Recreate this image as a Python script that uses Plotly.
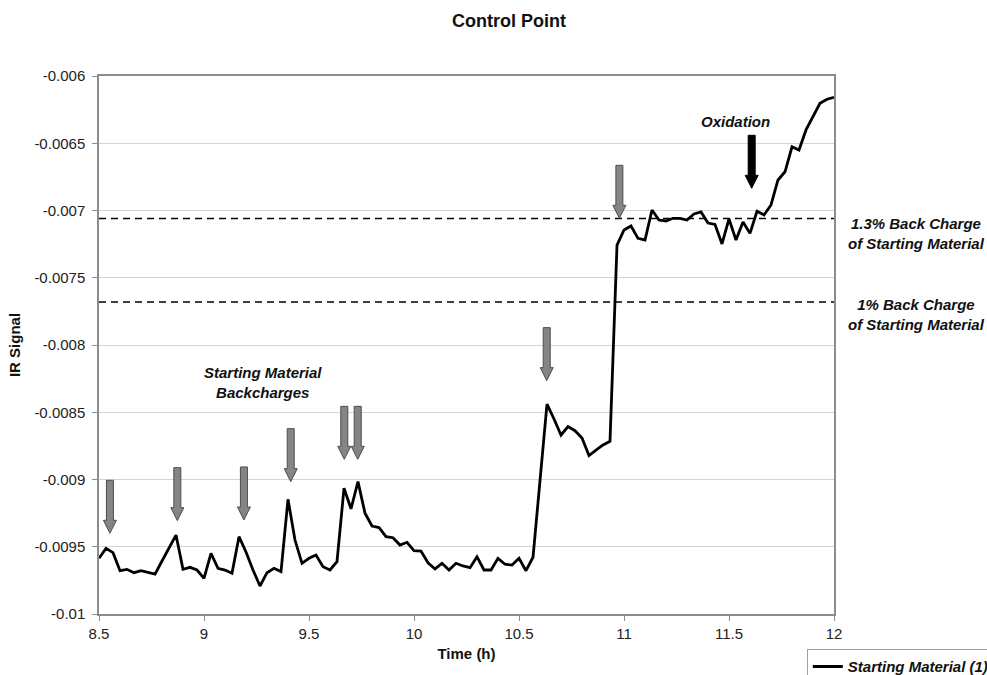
import plotly.graph_objects as go

# ---------------- data ----------------
time_h = [
    8.5, 8.5333, 8.5667, 8.6, 8.6333, 8.6667, 8.7, 8.7333, 8.7667, 8.8, 8.8333, 8.8667, 8.9, 8.9333, 8.9667,
    9.0, 9.0333, 9.0667, 9.1, 9.1333, 9.1667, 9.2, 9.2333, 9.2667, 9.3, 9.3333, 9.3667, 9.4, 9.4333, 9.4667,
    9.5, 9.5333, 9.5667, 9.6, 9.6333, 9.6667, 9.7, 9.7333, 9.7667, 9.8, 9.8333, 9.8667, 9.9, 9.9333, 9.9667,
    10.0, 10.0333, 10.0667, 10.1, 10.1333, 10.1667, 10.2, 10.2333, 10.2667, 10.3, 10.3333, 10.3667, 10.4, 10.4333, 10.4667,
    10.5, 10.5333, 10.5667, 10.6, 10.6333, 10.6667, 10.7, 10.7333, 10.7667, 10.8, 10.8333, 10.8667, 10.9, 10.9333, 10.9667,
    11.0, 11.0333, 11.0667, 11.1, 11.1333, 11.1667, 11.2, 11.2333, 11.2667, 11.3, 11.3333, 11.3667, 11.4, 11.4333, 11.4667,
    11.5, 11.5333, 11.5667, 11.6, 11.6333, 11.6667, 11.7, 11.7333, 11.7667, 11.8, 11.8333, 11.8667, 11.9, 11.9333, 11.9667,
    12.0,
]
ir_signal = [
    -0.009586, -0.009512, -0.009544, -0.009678, -0.009668, -0.009693, -0.009678, -0.009688, -0.009703, -0.009606,
    -0.009509, -0.009413, -0.009668, -0.009653, -0.009673, -0.009735, -0.009549, -0.009660, -0.009673, -0.009697,
    -0.009425, -0.009539, -0.009673, -0.009792, -0.009693, -0.009660, -0.009685, -0.009147, -0.009450, -0.009623,
    -0.009586, -0.009561, -0.009648, -0.009673, -0.009611, -0.009065, -0.009218, -0.009016, -0.009251, -0.009346,
    -0.009357, -0.009425, -0.009433, -0.009487, -0.009467, -0.009529, -0.009532, -0.009619, -0.009665, -0.009623,
    -0.009673, -0.009623, -0.009643, -0.009656, -0.009574, -0.009673, -0.009673, -0.009586, -0.009630, -0.009636,
    -0.009586, -0.009678, -0.009578, -0.009004, -0.008439, -0.008550, -0.008669, -0.008606, -0.008637, -0.008691,
    -0.008822, -0.008781, -0.008743, -0.008716, -0.007257, -0.007145, -0.007115, -0.007207, -0.007219, -0.006996,
    -0.007071, -0.007078, -0.007058, -0.007058, -0.007071, -0.007026, -0.007011, -0.007093, -0.007104, -0.007249,
    -0.007063, -0.007219, -0.007086, -0.007170, -0.007006, -0.007033, -0.006959, -0.006773, -0.006712, -0.006526,
    -0.006550, -0.006401, -0.006303, -0.006203, -0.006173, -0.006158,
]
series_name = "Starting Material (1)"

y_tick_vals = [-0.006, -0.0065, -0.007, -0.0075, -0.008, -0.0085, -0.009, -0.0095, -0.01]
y_tick_text = ["-0.006", "-0.0065", "-0.007", "-0.0075", "-0.008", "-0.0085", "-0.009", "-0.0095", "-0.01"]
x_tick_vals = [8.5, 9, 9.5, 10, 10.5, 11, 11.5, 12]

backcharge_levels = [-0.00706, -0.00768]
backcharge_labels = ["1.3% Back Charge<br>of Starting Material", "1% Back Charge<br>of Starting Material"]
backcharge_label_y = [-0.007168, -0.007775]

# arrows (annotation marks): time, signal at arrow tip
backcharge_arrow_t = [8.552, 8.873, 9.19, 9.413, 9.668, 9.732, 10.632, 10.978]
backcharge_arrow_tip = [-0.0094, -0.009306, -0.009301, -0.009016, -0.00885, -0.00885, -0.008265, -0.007058]
oxidation_arrow_t = [11.608]
oxidation_arrow_tip = [-0.006835]

# ---------------- figure ----------------
FONT = "Arial, 'Liberation Sans', sans-serif"
GRAY_AXIS = "#8c8c8c"

fig = go.Figure()
fig.add_trace(go.Scatter(
    x=time_h, y=ir_signal, mode="lines", name=series_name,
    line=dict(color="black", width=2.8),
))

# dashed back-charge reference lines
for lvl in backcharge_levels:
    fig.add_shape(type="line", xref="paper", yref="y", x0=0, x1=1, y0=lvl, y1=lvl,
                  line=dict(color="black", width=1.6, dash="7px,5px"), layer="above")

for lbl, ly in zip(backcharge_labels, backcharge_label_y):
    fig.add_annotation(text=lbl, xref="paper", yref="y", x=1.1116, y=ly, showarrow=False,
                       xanchor="center", yanchor="middle", align="center",
                       font=dict(family=FONT, size=15, color="#111", weight="bold", style="italic"))

# block arrows (pixel-sized, anchored at the tip)
arrow_path = "M 0 0 L -6.5 13 L -3.5 13 L -3.5 53 L 3.5 53 L 3.5 13 L 6.5 13 Z"
for t, tip in zip(backcharge_arrow_t, backcharge_arrow_tip):
    fig.add_shape(type="path", xref="x", yref="y", xsizemode="pixel", ysizemode="pixel",
                  xanchor=t, yanchor=tip, path=arrow_path,
                  fillcolor="#858585", line=dict(color="#4d4d4d", width=1), layer="above")
for t, tip in zip(oxidation_arrow_t, oxidation_arrow_tip):
    fig.add_shape(type="path", xref="x", yref="y", xsizemode="pixel", ysizemode="pixel",
                  xanchor=t, yanchor=tip, path=arrow_path,
                  fillcolor="black", line=dict(color="black", width=1), layer="above")

fig.add_annotation(text="Starting Material<br>Backcharges", xref="x", yref="y", x=9.281, y=-0.00828,
                   showarrow=False, xanchor="center", yanchor="middle", align="center",
                   font=dict(family=FONT, size=15, color="#111", weight="bold", style="italic"))
fig.add_annotation(text="Oxidation", xref="x", yref="y", x=11.529, y=-0.00634,
                   showarrow=False, xanchor="center", yanchor="middle",
                   font=dict(family=FONT, size=15, color="#111", weight="bold", style="italic"))

fig.update_layout(
    width=987, height=675,
    margin=dict(l=99, r=153, t=76, b=61, autoexpand=False),
    paper_bgcolor="white", plot_bgcolor="white",
    font=dict(family=FONT, size=15, color="#222"),
    title=dict(text="Control Point", x=0.5578, xref="paper", y=1 - 20.7 / 675, yref="container",
               xanchor="center", yanchor="middle",
               font=dict(family=FONT, size=18, color="#111", weight="bold")),
    showlegend=True,
    legend=dict(x=0.963, xanchor="left", y=-0.0655, yanchor="top", orientation="h",
                bordercolor="#a0a0a0", borderwidth=1, bgcolor="white",
                font=dict(family=FONT, size=15, color="#111", weight="bold", style="italic")),
    xaxis=dict(range=[8.5, 12], tickvals=x_tick_vals, showgrid=False, zeroline=False,
               showline=True, linecolor=GRAY_AXIS, linewidth=1.5, mirror=True,
               ticks="outside", ticklen=5, tickcolor=GRAY_AXIS,
               tickfont=dict(family=FONT, size=15, color="#222"),
               title=dict(text="Time (h)", standoff=8,
                          font=dict(family=FONT, size=15, color="#111", weight="bold"))),
    yaxis=dict(range=[-0.01, -0.006], tickvals=y_tick_vals, ticktext=y_tick_text,
               showgrid=True, gridcolor="#d4d4d4", gridwidth=1, zeroline=False,
               showline=True, linecolor=GRAY_AXIS, linewidth=1.5, mirror=True,
               ticks="outside", ticklen=5, tickcolor=GRAY_AXIS, ticklabelstandoff=4,
               tickfont=dict(family=FONT, size=15, color="#222"),
               title=dict(text="IR Signal", standoff=10,
                          font=dict(family=FONT, size=15, color="#111", weight="bold"))),
)

fig.write_html(
    "out.html",
    config={"displayModeBar": False},
    post_script="document.body.style.margin='0px';document.body.style.overflow='hidden';",
)
